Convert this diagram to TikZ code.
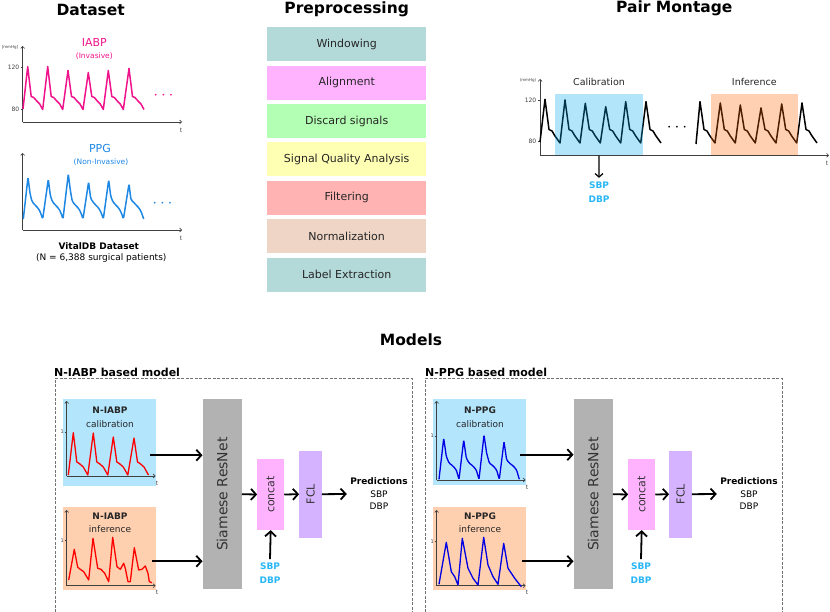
\documentclass[tikz,border=0pt]{standalone}
\usepackage{fontspec}
\setmainfont{DejaVu Sans}
\usepackage{graphicx}
\usetikzlibrary{arrows.meta,positioning,calc}

\definecolor{iabppink}{RGB}{240,20,140}
\definecolor{ppgblue}{RGB}{30,136,229}
\definecolor{bpcyan}{RGB}{41,182,246}
\definecolor{calibblue}{RGB}{179,229,252}
\definecolor{inferpeach}{RGB}{255,208,176}
\definecolor{calibtint}{RGB}{0,170,235}
\definecolor{infertint}{RGB}{255,100,0}
\definecolor{winteal}{RGB}{179,217,217}
\definecolor{alignpink}{RGB}{255,179,255}
\definecolor{discgreen}{RGB}{179,255,179}
\definecolor{sqayellow}{RGB}{255,255,179}
\definecolor{filtred}{RGB}{255,179,179}
\definecolor{normtan}{RGB}{238,213,198}
\definecolor{resgray}{RGB}{178,178,178}
\definecolor{fclpurple}{RGB}{213,179,255}

\begin{document}
\begin{tikzpicture}[x=1pt, y=-1pt,
    >={Straight Barb[length=5pt,width=11pt]},
    title/.style={font=\fontsize{15.5}{18}\selectfont\bfseries},
    prepbox/.style={minimum width=158.7pt, minimum height=34pt, inner sep=0pt, text=black!85, font=\fontsize{11}{13}\selectfont},
    axis/.style={-{Straight Barb[length=2pt,width=4pt]}, line width=0.6pt, black!75},
    tiny/.style={font=\fontsize{4}{5}\selectfont, text=black!75, inner sep=0.5pt},
    ticklbl/.style={font=\fontsize{6}{7}\selectfont, text=black!75, inner sep=0.5pt},
    flow/.style={->, line width=1.8pt},
    thinflow/.style={-{Straight Barb[length=3.5pt,width=8pt]}, line width=1.2pt},
    bp/.style={text=bpcyan, font=\fontsize{9}{14}\selectfont\bfseries, align=center},
    panel/.style={draw=black!55, dash pattern=on 3pt off 1.5pt, line width=0.6pt},
    modellbl/.style={font=\fontsize{11}{13}\selectfont\bfseries, anchor=west, inner sep=0pt},
    sigbox/.style={minimum width=93pt, inner sep=0pt, anchor=north west},
    blocklbl/.style={font=\fontsize{9}{13.6}\selectfont, text=black!85, align=center},
    dots/.style={font=\fontsize{19}{19}\selectfont, inner sep=0pt}]
  \useasboundingbox (0,0) rectangle (830,612);

  % Dataset
  \node[title] (dsTitle) at (90.7,9.5) {Dataset};
  \node[font=\fontsize{11}{12}\selectfont, text=iabppink] (iabpLbl) at (94.3,42.5) {IABP};
  \node[font=\fontsize{7.5}{9}\selectfont, text=iabppink] (iabpSub) at (94.3,56) {(Invasive)};
  \draw[axis] (22.7,122) -- (22.7,46);
  \draw[axis] (22.7,122) -- (182,122);
  \node[tiny] (iabpUnit) at (10,47) {[mmHg]};
  \draw[black!75, line width=0.6pt] (20.5,67) -- (22.7,67) (20.5,109) -- (22.7,109);
  \node[ticklbl, anchor=east] (iabp120) at (20,67) {120};
  \node[ticklbl, anchor=east] (iabp80) at (20,109) {80};
  \node[ticklbl] (iabpT) at (181,130) {t};
  \draw[iabppink, line width=1.5pt, line join=round] (23,109)
    \foreach \p/\h in {27.7/66.7,47.7/66.5,68/70.5,88.3/72.5,108.3/70.5,129/68.5}
      { -- (\p,\h) -- ({\p+3.5},96.5) -- ({\p+6},97.5) -- ({\p+9},101) -- ({\p+12},104) -- ({\p+15},109.5) };
  \node[dots, text=iabppink] (iabpDots) at (163.5,95.5) {$\cdots$};

  \node[font=\fontsize{11}{12}\selectfont, text=ppgblue] (ppgLbl) at (100,148.3) {PPG};
  \node[font=\fontsize{7.5}{9}\selectfont, text=ppgblue] (ppgSub) at (101,162.3) {(Non-Invasive)};
  \draw[axis] (22.7,230) -- (22.7,153);
  \draw[axis] (22.7,230) -- (182,230);
  \node[ticklbl] (ppgT) at (181,238) {t};
  \draw[ppgblue, line width=1.5pt, rounded corners=1.5pt] (23.3,219)
    \foreach \p/\h in {28/177.3,48.3/179.3,68.3/174,88.6/182,108.7/180,129/184}
      { -- (\p,\h) -- ({\p+2},{\h+16}) -- ({\p+4},201.5) -- ({\p+7},205) -- ({\p+10.3},208.3) -- ({\p+12.7},213) -- ({\p+14.7},219) };
  \node[dots, text=ppgblue] (ppgDots) at (162.5,203.5) {$\cdots$};

  \node[font=\fontsize{9}{11}\selectfont\bfseries] (vdbLbl) at (98.8,246.5) {VitalDB Dataset};
  \node[font=\fontsize{9}{11}\selectfont] (vdbSub) at (101.3,258.5) {(N = 6,388 surgical patients)};

  % Preprocessing
  \node[title] (ppTitle) at (346.7,9) {Preprocessing};
  \node[prepbox, fill=winteal] (win) at (346.7,44.3) {Windowing};
  \node[prepbox, fill=alignpink, below=4pt of win] (align) {Alignment};
  \node[prepbox, fill=discgreen, below=4pt of align] (discard) {Discard signals};
  \node[prepbox, fill=sqayellow, below=4pt of discard] (sqa) {Signal Quality Analysis};
  \node[prepbox, fill=filtred, below=4pt of sqa] (filter) {Filtering};
  \node[prepbox, fill=normtan, below=4pt of filter] (norm) {Normalization};
  \node[prepbox, fill=winteal, below=4pt of norm] (labext) {Label Extraction};

  % Pair montage
  \node[title] (pmTitle) at (674.3,8.5) {Pair Montage};
  \draw[axis] (540,155.3) -- (540,79);
  \draw[axis] (540,155.3) -- (829,155.3);
  \node[tiny] (pmUnit) at (528,80) {(mmHg)};
  \draw[black!75, line width=0.6pt] (537.8,100) -- (540,100) (537.8,141.7) -- (540,141.7);
  \node[ticklbl, anchor=east] (pm120) at (537,100) {120};
  \node[ticklbl, anchor=east] (pm80) at (537,141.7) {80};
  \node[ticklbl] (pmT) at (827,163) {t};
  \draw[black, line width=1.5pt, line join=round] (540,142)
    \foreach \p/\h in {545/99.3,565/100,585.3/103.3,605.7/106.7,625.7/101.7,646/101.7}
      { -- (\p,\h) -- ({\p+4},129.5) -- ({\p+7},131) -- ({\p+10},136) -- ({\p+15},143) };
  \draw[black, line width=1.5pt, line join=round] (696,144)
    \foreach \p/\h in {700/101.7,720.3/103,740.3/105,761/108,781.7/104,802/103}
      { -- (\p,\h) -- ({\p+4},129.5) -- ({\p+7},131) -- ({\p+10},136) -- ({\p+15},143) };
  \node[dots] (pmDots) at (677,127.5) {$\cdots$};
  \node[fill=calibtint, fill opacity=0.3, minimum width=87.7pt, minimum height=61.3pt, inner sep=0pt, anchor=north west] (calWin) at (555,94) {};
  \node[fill=infertint, fill opacity=0.3, minimum width=86.7pt, minimum height=61.3pt, inner sep=0pt, anchor=north west] (infWin) at (711,94) {};
  \node[font=\fontsize{9.5}{11}\selectfont, text=black!85] (calLbl) at (599,81.7) {Calibration};
  \node[font=\fontsize{9.5}{11}\selectfont, text=black!85] (infLbl) at (754.3,81.7) {Inference};
  \node[bp] (pmBP) at (599,191.7) {SBP\\DBP};
  \draw[thinflow] (calWin.south) -- (pmBP.north);

  % Models
  \node[title] (mTitle) at (411,340) {Models};

  \begin{scope}
    \draw[panel] (55,612) -- (55,378.3) -- (412,378.3) -- (412,612);
    \node[modellbl] (lblL) at (54,372.5) {N-IABP based model};
    \node[sigbox, fill=calibblue, minimum height=87pt] (calL) at (63,399) {};
    \node[sigbox, fill=inferpeach, minimum height=83.3pt] (infL) at (63,506.7) {};
    \node[blocklbl] (calTxtL) at (110,417.3) {\textbf{N-IABP}\\calibration};
    \node[blocklbl] (infTxtL) at (110,522.8) {\textbf{N-IABP}\\inference};
    \draw[axis] (66.7,476) -- (66.7,401);
    \draw[axis] (66.7,476) -- (155.5,476);
    \draw[axis] (66.7,585.7) -- (66.7,510);
    \draw[axis] (66.7,585.7) -- (155.5,585.7);
    \draw[black!75, line width=0.6pt] (64.8,432) -- (66.7,432) (64.8,540.7) -- (66.7,540.7);
    \node[ticklbl, font=\fontsize{5}{6}\selectfont, anchor=east] (oneCL) at (64.5,432) {1};
    \node[ticklbl, font=\fontsize{5}{6}\selectfont, anchor=east] (oneIL) at (64.5,540.7) {1};
    \node[ticklbl] (tCL) at (157,483) {t};
    \node[ticklbl] (tIL) at (157,592) {t};
    \draw[red, line width=1.3pt, line join=round] (68.3,475)
      \foreach \p/\h in {73.3/432.7,93.3/433,113.3/437,134/438}
        { -- (\p,\h) -- ({\p+3.5},462) -- ({\p+6},463.5) -- ({\p+10},467) -- ({\p+14.5},475) };
    \draw[red, line width=1.3pt, line join=round] (68.7,580) -- (74.3,549.3) -- (77.7,567.3) -- (80.3,569.3) -- (83.7,571.7) -- (88.7,580)
      -- (93,538.3) -- (97.7,568.3) -- (101,569.3) -- (104.7,573.3) -- (108.7,581.7)
      -- (112.7,537.3) -- (117,566.7) -- (120.3,569.3) -- (123.7,563.3) -- (125.3,568.3) -- (128,581.7) -- (130.3,581.7)
      -- (134.3,547.7) -- (138.7,570) -- (142,569.3) -- (145.3,566) -- (148,573.3) -- (149.3,581.7) -- (152,582.7);
    \node[fill=resgray, minimum width=39pt, minimum height=190.3pt, inner sep=0pt, text=black!80, font=\fontsize{14}{16}\selectfont] (siamL) at (222.2,494.2) {\rotatebox{90}{Siamese ResNet}};
    \node[fill=alignpink, minimum width=26.7pt, minimum height=71pt, inner sep=0pt, text=black!80, font=\fontsize{11}{13}\selectfont] (concatL) at (270.7,494.5) {\rotatebox{90}{concat}};
    \node[fill=fclpurple, minimum width=22.4pt, minimum height=87pt, inner sep=0pt, text=black!80, font=\fontsize{11}{13}\selectfont] (fclL) at (310.5,494.2) {\rotatebox{90}{FCL}};
    \node[font=\fontsize{9}{12.5}\selectfont, align=center] (predL) at (379,494) {\textbf{Predictions}\\SBP\\DBP};
    \node[bp] (bpL) at (270,573) {SBP\\DBP};
    \coordinate (cOutL) at ([xshift=-6pt,yshift=-12.5pt]calL.east);
    \coordinate (iOutL) at ([xshift=-4pt,yshift=-12.7pt]infL.east);
    \draw[flow] (cOutL) -- (cOutL -| siamL.west);
    \draw[flow] (iOutL) -- (iOutL -| siamL.west);
    \draw[flow] (siamL.east) -- (concatL.west);
    \draw[flow] (concatL.east) -- (fclL.west);
    \draw[flow] (fclL.east) -- (predL.west);
    \draw[flow] (bpL.north) -- (concatL.south);
  \end{scope}

  \begin{scope}[shift={(370,0)}]
    \draw[panel] (55,612) -- (55,378.3) -- (412,378.3) -- (412,612);
    \node[modellbl] (lblR) at (55,372.5) {N-PPG based model};
    \node[sigbox, fill=calibblue, minimum height=86pt] (calR) at (63,399) {};
    \node[sigbox, fill=inferpeach, minimum height=83.3pt] (infR) at (63,506.7) {};
    \node[blocklbl] (calTxtR) at (110,417.3) {\textbf{N-PPG}\\calibration};
    \node[blocklbl] (infTxtR) at (110,522.8) {\textbf{N-PPG}\\inference};
    \draw[axis] (66.7,480) -- (66.7,401);
    \draw[axis] (66.7,480) -- (155.5,480);
    \draw[axis] (66.7,585.7) -- (66.7,510);
    \draw[axis] (66.7,585.7) -- (155.5,585.7);
    \draw[black!75, line width=0.6pt] (64.8,436) -- (66.7,436) (64.8,541.5) -- (66.7,541.5);
    \node[ticklbl, font=\fontsize{5}{6}\selectfont, anchor=east] (oneCR) at (64.5,436) {1};
    \node[ticklbl, font=\fontsize{5}{6}\selectfont, anchor=east] (oneIR) at (64.5,541.5) {1};
    \node[ticklbl] (tCR) at (157,487) {t};
    \node[ticklbl] (tIR) at (157,592) {t};
    \draw[blue!90!black, line width=1.3pt, rounded corners=1.2pt] (69,479.3)
      \foreach \p/\h in {73.7/438.3,93.7/440,114/435,134/441.7}
        { -- (\p,\h) -- ({\p+2.6},{\h+18}) -- ({\p+5.3},463) -- ({\p+9.3},466) -- ({\p+12.6},470) -- ({\p+15.3},479.3) };
    \draw[blue!90!black, line width=1.3pt, line join=round] (69,584.3) -- (76.3,542.3) -- (81.3,571.7) -- (84.7,576.7) -- (88,585)
      -- (92.3,538.3) -- (98,568.3) -- (103,578.3) -- (108,585)
      -- (113.7,537.3) -- (118,565) -- (123,576.7) -- (128,584.3)
      -- (133.7,543.3) -- (138,568.3) -- (144.7,578.3) -- (151.3,586.7);
    \node[fill=resgray, minimum width=39pt, minimum height=190.3pt, inner sep=0pt, text=black!80, font=\fontsize{14}{16}\selectfont] (siamR) at (223.2,494.2) {\rotatebox{90}{Siamese ResNet}};
    \node[fill=alignpink, minimum width=26.7pt, minimum height=71pt, inner sep=0pt, text=black!80, font=\fontsize{11}{13}\selectfont] (concatR) at (271.7,494.5) {\rotatebox{90}{concat}};
    \node[fill=fclpurple, minimum width=22.4pt, minimum height=87pt, inner sep=0pt, text=black!80, font=\fontsize{11}{13}\selectfont] (fclR) at (310.5,494.2) {\rotatebox{90}{FCL}};
    \node[font=\fontsize{9}{12.5}\selectfont, align=center] (predR) at (379,494) {\textbf{Predictions}\\SBP\\DBP};
    \node[bp] (bpR) at (271,573) {SBP\\DBP};
    \coordinate (cOutR) at ([xshift=-6pt,yshift=-12.5pt]calR.east);
    \coordinate (iOutR) at ([xshift=-4pt,yshift=-12.7pt]infR.east);
    \draw[flow] (cOutR) -- (cOutR -| siamR.west);
    \draw[flow] (iOutR) -- (iOutR -| siamR.west);
    \draw[flow] (siamR.east) -- (concatR.west);
    \draw[flow] (concatR.east) -- (fclR.west);
    \draw[flow] (fclR.east) -- (predR.west);
    \draw[flow] (bpR.north) -- (concatR.south);
  \end{scope}
\end{tikzpicture}
\end{document}
